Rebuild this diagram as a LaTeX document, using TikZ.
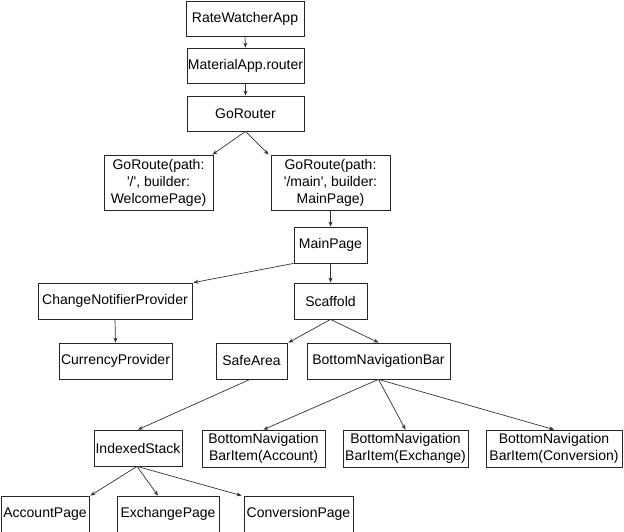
\documentclass[tikz,border=0pt]{standalone}
\usepackage{fontspec}
\setmainfont{Liberation Sans}
\usetikzlibrary{arrows.meta}
\begin{document}
\begin{tikzpicture}[x=1pt,y=-1pt,
  box/.style={draw=black!85,line width=0.8pt,align=center,inner sep=0pt,
    font=\fontsize{14}{17}\selectfont,text=black},
  conn/.style={draw=black!80,line width=0.7pt,-{Stealth[length=5pt,width=4pt]}}]
\useasboundingbox (0,0) rectangle (624,532);
\node[box,minimum width=118pt,minimum height=35pt] (app) at (245,18.5) {RateWatcherApp};
\node[box,minimum width=117pt,minimum height=35pt] (mat) at (245.5,65.5) {MaterialApp.router};
\node[box,minimum width=117pt,minimum height=35pt] (gor) at (245.5,113.5) {GoRouter};
\node[box,minimum width=109pt,minimum height=55pt] (gr1) at (158.5,182.5) {GoRoute(path:\\\textquotesingle/\textquotesingle, builder:\\WelcomePage)};
\node[box,minimum width=119pt,minimum height=55pt] (gr2) at (330.5,182.5) {GoRoute(path:\\\textquotesingle/main\textquotesingle, builder:\\MainPage)};
\node[box,minimum width=73pt,minimum height=36pt] (main) at (330.5,245) {MainPage};
\node[box,minimum width=154pt,minimum height=36pt] (cnp) at (115,301) {ChangeNotifierProvider};
\node[box,minimum width=73pt,minimum height=36pt] (scaf) at (330.5,301) {Scaffold};
\node[box,minimum width=113pt,minimum height=36pt] (cur) at (115.5,361) {CurrencyProvider};
\node[box,minimum width=71pt,minimum height=36pt] (safe) at (251.5,361) {SafeArea};
\node[box,minimum width=143pt,minimum height=36pt] (bnb) at (378.5,361) {BottomNavigationBar};
\node[box,minimum width=88pt,minimum height=36pt] (is) at (138,448) {IndexedStack};
\node[box,minimum width=123pt,minimum height=37pt] (bi1) at (263.5,448.5) {BottomNavigation\\BarItem(Account)};
\node[box,minimum width=125pt,minimum height=37pt] (bi2) at (405.5,448.5) {BottomNavigation\\BarItem(Exchange)};
\node[box,minimum width=136pt,minimum height=37pt] (bi3) at (554,448.5) {BottomNavigation\\BarItem(Conversion)};
\node[box,minimum width=88pt,minimum height=36pt] (acc) at (45,514) {AccountPage};
\node[box,minimum width=102pt,minimum height=36pt] (exc) at (168,514) {ExchangePage};
\node[box,minimum width=109pt,minimum height=36pt] (conv) at (298.5,514) {ConversionPage};
\draw[conn] (app.south) -- (mat.north);
\draw[conn] (mat.south) -- (gor.north);
\draw[conn] (gor.south) -- ([xshift=-1pt]gr1.north east);
\draw[conn] (gor.south) -- ([xshift=-2pt]gr2.north west);
\draw[conn] (gr2.south) -- (main.north);
\draw[conn] (main.south west) -- ([xshift=1pt]cnp.north east);
\draw[conn] (main.south) -- (scaf.north);
\draw[conn] (cnp.south) -- (cur.north);
\draw[conn] (scaf.south) -- ([xshift=1pt]safe.north east);
\draw[conn] (scaf.south) -- (bnb.north);
\draw[conn] ([xshift=-1.5pt]safe.south) -- (is.north);
\draw[conn] (bnb.south) -- (bi1.north);
\draw[conn] (bnb.south) -- (bi2.north);
\draw[conn] (bnb.south) -- (bi3.north);
\draw[conn] ([xshift=-1pt]is.south) -- ([xshift=1pt]acc.north east);
\draw[conn] ([xshift=-1pt]is.south) -- ([xshift=-10pt]exc.north);
\draw[conn] ([xshift=-1pt]is.south) -- ([xshift=-2pt]conv.north west);
\end{tikzpicture}
\end{document}
